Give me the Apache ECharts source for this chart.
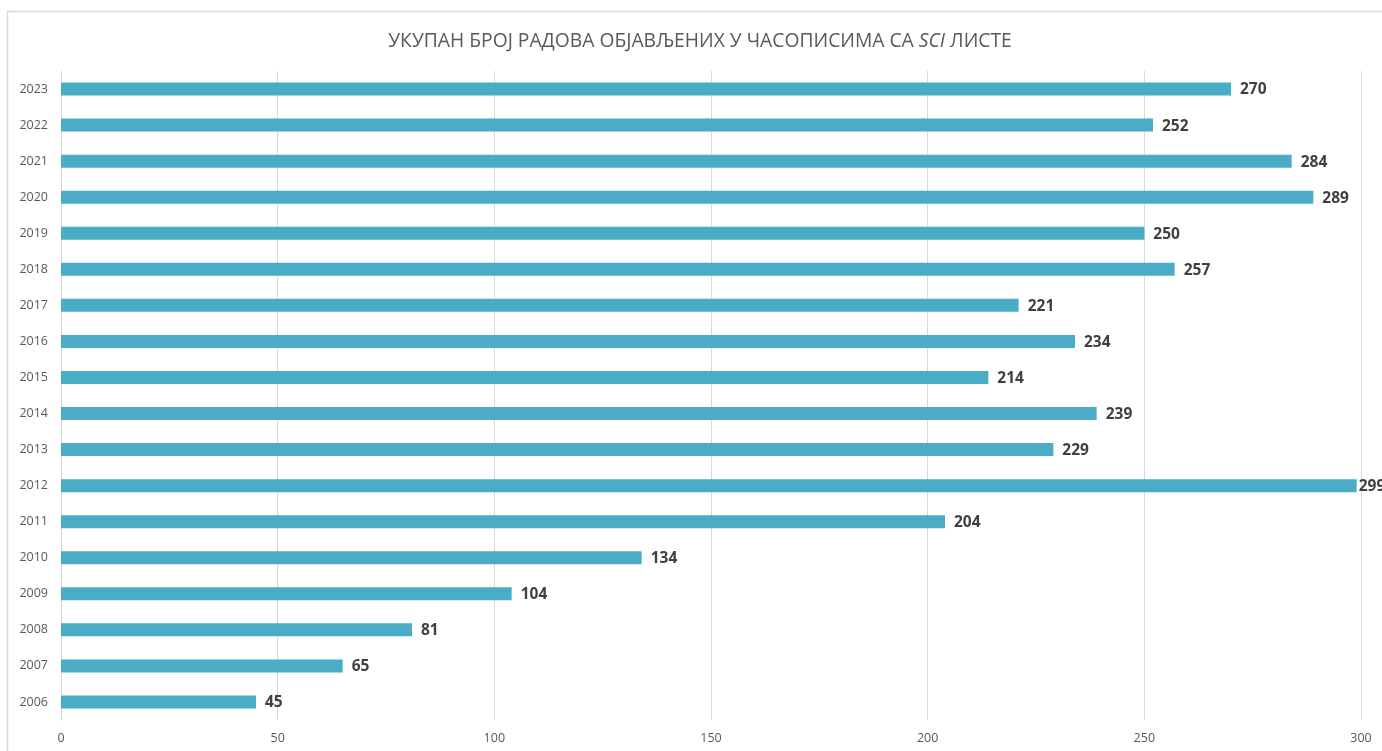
<!DOCTYPE html>
<html><head><meta charset="utf-8">
<script src="https://cdn.jsdelivr.net/npm/echarts@6/dist/echarts.min.js"></script>
<style>html,body{margin:0;padding:0;background:#fff}#c{width:1382px;height:751px}</style>
</head><body><div id="c"></div>
<script>
const years = ['2006','2007','2008','2009','2010','2011','2012','2013','2014','2015','2016','2017','2018','2019','2020','2021','2022','2023'];
const values = [45,65,81,104,134,204,299,229,239,214,234,221,257,250,289,284,252,270];
const xTicks = [0,50,100,150,200,250,300];

const chart = echarts.init(document.getElementById('c'));
chart.setOption({
  animation:false,
  backgroundColor:'#fff',
  graphic:[{type:'rect',shape:{x:7.5,y:11.5,width:1400,height:760},style:{fill:'none',stroke:'#d9d9d9',lineWidth:1.5},silent:true,z:-1}],
  title:{
    text:'{n|УКУПАН БРОЈ РАДОВА ОБЈАВЉЕНИХ У ЧАСОПИСИМА СА }{i|SCI}{n| ЛИСТЕ}',
    left:695, textAlign:'center', top:27,
    textStyle:{fontWeight:'normal',rich:{
      n:{fontFamily:'Open Sans',fontSize:19.3,fontWeight:'normal',color:'#595959'},
      i:{fontFamily:'Open Sans',fontSize:19.3,fontWeight:'normal',color:'#595959',fontStyle:'italic'}
    }}
  },
  grid:{left:61,right:21,top:71,bottom:31,containLabel:false},
  xAxis:{type:'value',min:0,max:300,interval:50,
    axisLine:{show:false},axisTick:{show:false},
    splitLine:{lineStyle:{color:'#d9d9d9',width:1}},
    axisLabel:{color:'#595959',fontFamily:'Open Sans',fontSize:12.5,margin:12,
      formatter:v=>xTicks.includes(v)?String(v):''}
  },
  yAxis:{type:'category',data:years,
    axisLine:{show:true,lineStyle:{color:'#d9d9d9',width:1}},axisTick:{show:false},
    axisLabel:{color:'#595959',fontFamily:'Open Sans',fontSize:12.5,margin:13}
  },
  series:[{type:'bar',barWidth:13,
    data:values.map((v,i)=>v>=295?{value:v,label:{distance:2}}:v),
    itemStyle:{color:'#4BACC6'},
    label:{show:true,position:'right',distance:9,offset:[0,1],color:'#404040',fontFamily:'Open Sans',fontSize:15.5,fontWeight:'bold'}
  }]
});
</script></body></html>
